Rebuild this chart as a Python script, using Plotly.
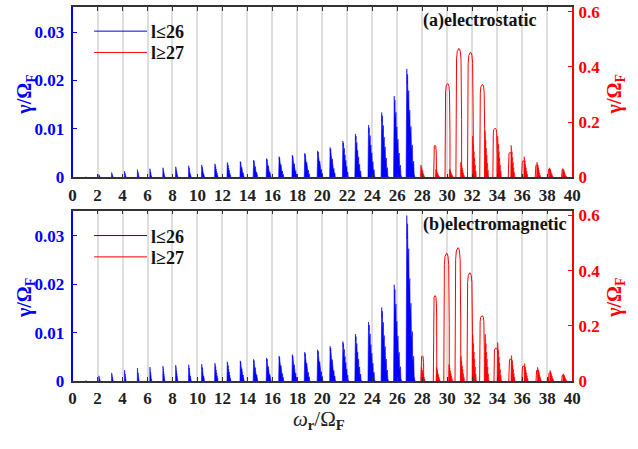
import plotly.graph_objects as go

W, H = 638, 449

# ---------------- data ----------------
X_TICKS = list(range(0, 41, 2))
Y_LEFT_TICKS = [0, 0.01, 0.02, 0.03]
Y_LEFT_TEXT = ["0", "0.01", "0.02", "0.03"]
Y_RIGHT_TICKS = [0, 0.2, 0.4, 0.6]
Y_RIGHT_TEXT = ["0", "0.2", "0.4", "0.6"]

# blue bursts, harmonics l = 1..26 (left edge position, width, peak height)
BLUE_POS = [1.05, 2.10, 3.12, 4.15, 5.18, 6.18, 7.22, 8.24, 9.28, 10.32,
            11.37, 12.36, 13.40, 14.46, 15.50, 16.50, 17.56, 18.55, 19.58,
            20.58, 21.60, 22.60, 23.65, 24.70, 25.70, 26.70]
BLUE_WIDTH = [0.10, 0.12, 0.14, 0.15, 0.16, 0.17, 0.18, 0.20, 0.22, 0.25,
              0.30, 0.34, 0.37, 0.40, 0.42, 0.44, 0.45, 0.48, 0.50, 0.50,
              0.52, 0.55, 0.58, 0.60, 0.65, 0.72]
BLUE_PEAK_A = [0.0001, 0.0006, 0.0010, 0.0013, 0.0016, 0.0018, 0.0020, 0.0022,
               0.0024, 0.0026, 0.0028, 0.0031, 0.0033, 0.0036, 0.0039, 0.0043,
               0.0046, 0.0050, 0.0055, 0.0062, 0.0075, 0.0090, 0.0108, 0.0134,
               0.0168, 0.0224]
BLUE_PEAK_B = [0.0001, 0.0011, 0.0017, 0.0023, 0.0027, 0.0029, 0.0031, 0.0033,
               0.0034, 0.0035, 0.0037, 0.0040, 0.0042, 0.0045, 0.0048, 0.0052,
               0.0055, 0.0060, 0.0065, 0.0072, 0.0082, 0.0097, 0.0122, 0.0152,
               0.0199, 0.0342]

# jagged burst outline read from the largest burst (fractions of width / peak)
BURST_X = [0.0, 0.0, 0.04, 0.08, 0.12, 0.17, 0.22, 0.30, 0.34, 0.42, 0.46,
           0.55, 0.60, 0.70, 0.74, 0.85, 0.90, 1.0]
BURST_Y = [0.0, 0.70, 0.76, 1.00, 0.86, 0.95, 0.70, 0.80, 0.55, 0.62, 0.40,
           0.47, 0.25, 0.30, 0.12, 0.15, 0.03, 0.0]

# red arches (l >= 27): centre, height, full width
RED_LOBE_POS_A = [29.02, 30.02, 30.92, 31.85, 32.80, 33.82, 35.02, 36.08, 37.16, 38.16, 39.25]
RED_LOBE_H_A = [0.116, 0.340, 0.467, 0.453, 0.336, 0.178, 0.090, 0.060, 0.045, 0.030, 0.028]
RED_LOBE_W_A = [0.22, 0.40, 0.46, 0.46, 0.40, 0.34, 0.28, 0.26, 0.24, 0.20, 0.20]
RED_SPIKE_POS_A = [27.85, 29.05, 30.15, 31.05, 32.00, 32.98, 34.00, 35.08, 36.12, 37.15, 38.15, 39.22]
RED_SPIKE_H_A = [0.045, 0.030, 0.030, 0.055, 0.150, 0.170, 0.150, 0.116, 0.075, 0.055, 0.035, 0.032]

RED_LOBE_POS_B = [28.00, 29.02, 29.94, 30.85, 31.80, 32.78, 33.90, 35.06, 36.10, 37.22, 38.20, 39.26]
RED_LOBE_H_B = [0.091, 0.310, 0.463, 0.483, 0.392, 0.237, 0.120, 0.080, 0.055, 0.040, 0.030, 0.022]
RED_LOBE_W_B = [0.22, 0.28, 0.44, 0.46, 0.44, 0.38, 0.32, 0.28, 0.26, 0.24, 0.20, 0.20]
RED_SPIKE_POS_B = [27.90, 29.10, 30.10, 31.05, 32.00, 33.00, 34.00, 35.10, 36.15, 37.20, 38.20, 39.25]
RED_SPIKE_H_B = [0.050, 0.050, 0.060, 0.090, 0.170, 0.170, 0.140, 0.093, 0.064, 0.050, 0.039, 0.027]
RED_SPIKE_W = 0.35

ARCH_X = [-1.0, -0.98, -0.92, -0.78, -0.55, -0.28, 0.0, 0.28, 0.55, 0.78, 0.92, 0.98, 1.0]
ARCH_Y = [0.0, 0.45, 0.74, 0.91, 0.975, 0.995, 1.0, 0.995, 0.975, 0.91, 0.74, 0.45, 0.0]

FONT = "Liberation Serif"
BLUE = "#0000ff"
RED = "#ff0000"


def bursts(pos, widths, peaks):
    xs, ys = [], []
    for p, w, h in zip(pos, widths, peaks):
        xs += [p + w * f for f in BURST_X] + [None]
        ys += [h * f for f in BURST_Y] + [None]
    return xs, ys


def arches(pos, widths, peaks):
    xs, ys = [], []
    for p, w, h in zip(pos, widths, peaks):
        xs += [p + 0.5 * w * f for f in ARCH_X] + [None]
        ys += [h * f for f in ARCH_Y] + [None]
    return xs, ys


fig = go.Figure()

panels = [
    dict(xa="x", yl="y", yr="y2", bp=BLUE_PEAK_A, lp=RED_LOBE_POS_A, lh=RED_LOBE_H_A,
         lw=RED_LOBE_W_A, sp=RED_SPIKE_POS_A, sh=RED_SPIKE_H_A),
    dict(xa="x2", yl="y3", yr="y4", bp=BLUE_PEAK_B, lp=RED_LOBE_POS_B, lh=RED_LOBE_H_B,
         lw=RED_LOBE_W_B, sp=RED_SPIKE_POS_B, sh=RED_SPIKE_H_B),
]

for p in panels:
    bx, by = bursts(BLUE_POS, BLUE_WIDTH, p["bp"])
    fig.add_trace(go.Scatter(x=bx, y=by, xaxis=p["xa"], yaxis=p["yl"], mode="lines",
                             fill="toself", fillcolor=BLUE,
                             line=dict(color=BLUE, width=0.6), showlegend=False,
                             hoverinfo="skip"))
    sx, sy = bursts(p["sp"], [RED_SPIKE_W] * len(p["sp"]), p["sh"])
    fig.add_trace(go.Scatter(x=sx, y=sy, xaxis=p["xa"], yaxis=p["yr"], mode="lines",
                             fill="toself", fillcolor=RED,
                             line=dict(color=RED, width=0.6), showlegend=False,
                             hoverinfo="skip"))
    ax, ay = arches(p["lp"], p["lw"], p["lh"])
    fig.add_trace(go.Scatter(x=ax, y=ay, xaxis=p["xa"], yaxis=p["yr"], mode="lines",
                             line=dict(color=RED, width=1), showlegend=False,
                             hoverinfo="skip"))

XD = [70 / W, 580 / W]
TOP = [1 - 179 / H, 1 - 3 / H]
BOT = [1 - 389.3 / H, 1 - 213.3 / H]

TICK_SIZE = 17
tickfont_x = dict(family=FONT, size=TICK_SIZE, color="#222", weight="bold")


def xaxis(anchor, domain):
    return dict(domain=domain, anchor=anchor, range=[0, 40], tickvals=X_TICKS,
                ticktext=[str(v) for v in X_TICKS], showgrid=True,
                gridcolor="#dedede", gridwidth=1.6, showline=True, linecolor="#333",
                linewidth=1.5, mirror="ticks", ticks="inside", ticklen=4,
                tickcolor="#333", tickfont=tickfont_x, zeroline=False, ticklabelstandoff=1)


def yleft(domain):
    return dict(domain=domain, range=[0, 0.0352], tickvals=Y_LEFT_TICKS,
                ticktext=Y_LEFT_TEXT, showgrid=False, zeroline=False, showline=True,
                linecolor=BLUE, linewidth=2, ticks="inside", ticklen=4, tickcolor=BLUE,
                ticklabelstandoff=3,
                tickfont=dict(family=FONT, size=TICK_SIZE, color=BLUE, weight="bold"))


def yright(overlay):
    return dict(overlaying=overlay, side="right", range=[0, 0.617],
                tickvals=Y_RIGHT_TICKS, ticktext=Y_RIGHT_TEXT, showgrid=False,
                zeroline=False, showline=True, linecolor=RED, linewidth=2,
                ticks="inside", ticklen=4, tickcolor=RED, ticklabelstandoff=1,
                tickfont=dict(family=FONT, size=TICK_SIZE, color=RED, weight="bold"))


ya = yleft(TOP)
ya["anchor"] = "x"
yb = yleft(BOT)
yb["anchor"] = "x2"
y2 = yright("y")
y2["anchor"] = "x"
y4 = yright("y3")
y4["anchor"] = "x2"

annotations = []
shapes = []


def px(x, y):
    return x / W, 1 - y / H


def ann(x, y, text, size, color, angle=0, xanchor="center"):
    xx, yy = px(x, y)
    annotations.append(dict(x=xx, y=yy, xref="paper", yref="paper", textangle=angle,
                            xanchor=xanchor, yanchor="middle", text=text,
                            showarrow=False,
                            font=dict(family=FONT, size=size, color=color)))


for (ttl_y, lab, leg_y1, leg_y2) in [(93, "(a)electrostatic", 28, 50),
                                      (303, "(b)electromagnetic", 239, 261)]:
    ann(22, ttl_y, "<b>γ/Ω<sub>F</sub></b>", 20, BLUE, angle=-90)
    ann(624, ttl_y, "<b>γ/Ω<sub>F</sub></b>", 20, RED, angle=-90)
    ann(426, leg_y1 - 11, "<b>" + lab + "</b>", 18, "#111", xanchor="left")
    for ly, col, txt in [(leg_y1, BLUE, "l≤26"), (leg_y2, RED, "l≥27")]:
        x0, y0 = px(92, ly)
        x1, _ = px(146, ly)
        shapes.append(dict(type="line", xref="paper", yref="paper", x0=x0, x1=x1,
                           y0=y0, y1=y0, line=dict(color=col, width=1)))
        ann(148, ly + 1, "<b>" + txt + "</b>", 18, "#111", xanchor="left")

ann(322, 429, "<i>ω</i><sub><b>r</b></sub>/Ω<sub><b>F</b></sub>", 21, "#222")

fig.update_layout(
    width=W, height=H, margin=dict(l=0, r=0, t=0, b=0),
    paper_bgcolor="white", plot_bgcolor="white",
    xaxis=xaxis("y", XD), xaxis2=xaxis("y3", XD),
    yaxis=ya, yaxis2=y2, yaxis3=yb, yaxis4=y4,
    annotations=annotations, shapes=shapes, showlegend=False,
)

fig.write_html("out.html")
